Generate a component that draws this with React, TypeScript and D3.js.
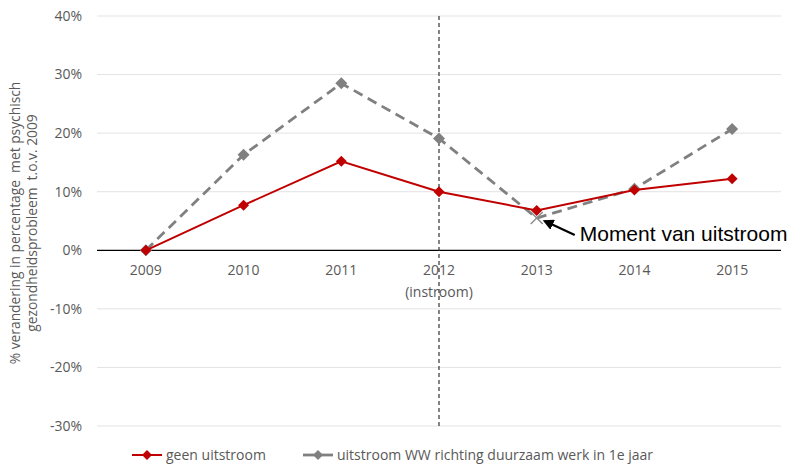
import * as d3 from "d3";
import React from "react";

const years = ["2009", "2010", "2011", "2012", "2013", "2014", "2015"];
const geenUitstroom = [0, 7.7, 15.2, 10.0, 6.8, 10.3, 12.2];
const uitstroomWW = [0, 16.3, 28.5, 19.1, 5.5, 10.5, 20.7];
const yTicks = [-30, -20, -10, 0, 10, 20, 30, 40];

export default function App() {
  const WIDTH = 791;
  const HEIGHT = 467;
  const margin = { top: 16, right: 10, bottom: 41, left: 97 };
  const font = "'Open Sans', sans-serif";

  const x = d3
    .scaleBand()
    .domain(years)
    .range([margin.left, WIDTH - margin.right]);
  const y = d3
    .scaleLinear()
    .domain([-30, 40])
    .range([HEIGHT - margin.bottom, margin.top]);

  const cx = (d: string) => (x(d) || 0) + x.bandwidth() / 2;

  const line = d3
    .line<number>()
    .x((d, i) => cx(years[i]))
    .y((d) => y(d));

  const diamond = (px: number, py: number, r: number) =>
    `M${px},${py - r}L${px + r},${py}L${px},${py + r}L${px - r},${py}Z`;

  const instroomX = cx("2012");
  const moment = { x: cx("2013"), y: y(uitstroomWW[4]) };

  return (
    <svg width={WIDTH} height={HEIGHT} style={{ position: "absolute", left: 0, top: 0 }}>
      <defs>
        <marker id="arrow" viewBox="0 0 10 10" refX={8} refY={5} markerWidth={5} markerHeight={5} orient="auto">
          <path d="M0,0L10,5L0,10Z" fill="#000" />
        </marker>
      </defs>
      {/* grid */}
      {yTicks.map((t) => (
        <g key={t}>
          <line
            x1={margin.left}
            x2={WIDTH - margin.right}
            y1={y(t)}
            y2={y(t)}
            stroke={t === 0 ? "#000" : "#e3e3e3"}
            strokeWidth={t === 0 ? 1.3 : 1}
          />
          <text
            x={margin.left - 15}
            y={y(t)}
            dy="0.35em"
            textAnchor="end"
            fontSize={14}
            fontFamily={font}
            fill="#595959"
          >
            {t + "%"}
          </text>
        </g>
      ))}
      {/* x labels */}
      {years.map((yr) => (
        <text
          key={yr}
          x={cx(yr)}
          y={y(0) + 25}
          textAnchor="middle"
          fontSize={14}
          fontFamily={font}
          fill="#595959"
        >
          {yr}
        </text>
      ))}
      <text x={instroomX} y={y(0) + 47} textAnchor="middle" fontSize={14} fontFamily={font} fill="#595959">
        (instroom)
      </text>
      {/* y title */}
      <g transform={`translate(20, ${(margin.top + HEIGHT - margin.bottom) / 2 + 2}) rotate(-90)`}>
        <text textAnchor="middle" fontSize={13.8} fontFamily={font} fill="#595959" xmlSpace="preserve">
          <tspan x={0} dy={0}>% verandering in percentage  met psychisch</tspan>
          <tspan x={0} dy={17}>gezondheidsprobleem  t.o.v. 2009</tspan>
        </text>
      </g>
      {/* instroom line */}
      <line
        x1={instroomX}
        x2={instroomX}
        y1={y(40)}
        y2={y(-30)}
        stroke="#333"
        strokeWidth={1.2}
        strokeDasharray="4,3"
      />
      {/* grey dashed series */}
      <path d={line(uitstroomWW) || ""} fill="none" stroke="#808080" strokeWidth={2.8} strokeDasharray="10,6" />
      {uitstroomWW.map((v, i) =>
        i === 4 ? (
          <g key={i} stroke="#8c8c8c" strokeWidth={1.5}>
            <line x1={cx(years[i]) - 6} x2={cx(years[i]) + 6} y1={y(v) - 6} y2={y(v) + 6} />
            <line x1={cx(years[i]) - 6} x2={cx(years[i]) + 6} y1={y(v) + 6} y2={y(v) - 6} />
          </g>
        ) : (
          <path key={i} d={diamond(cx(years[i]), y(v), 6)} fill="#808080" />
        )
      )}
      {/* red series */}
      <path d={line(geenUitstroom) || ""} fill="none" stroke="#c00000" strokeWidth={2} />
      {geenUitstroom.map((v, i) => (
        <path key={i} d={diamond(cx(years[i]), y(v), 5.5)} fill="#c00000" />
      ))}
      {/* annotation */}
      <line
        x1={moment.x + 38}
        y1={moment.y + 17}
        x2={moment.x + 8}
        y2={moment.y + 3}
        stroke="#000"
        strokeWidth={2.2}
        markerEnd="url(#arrow)"
      />
      <text x={moment.x + 43} y={moment.y + 23} fontSize={21} fontFamily="Arial, 'Liberation Sans', sans-serif" fill="#000">
        Moment van uitstroom
      </text>
      {/* legend */}
      <g fontSize={14} fontFamily={font} fill="#595959">
        <line x1={132} x2={162} y1={455} y2={455} stroke="#c00000" strokeWidth={2} />
        <path d={diamond(147, 455, 5)} fill="#c00000" />
        <text x={166} y={455} dy="0.35em">geen uitstroom</text>
        <line x1={303} x2={333} y1={455} y2={455} stroke="#808080" strokeWidth={2.8} />
        <path d={diamond(318, 455, 5)} fill="#808080" />
        <text x={337} y={455} dy="0.35em">uitstroom WW richting duurzaam werk in 1e jaar</text>
      </g>
    </svg>
  );
}
